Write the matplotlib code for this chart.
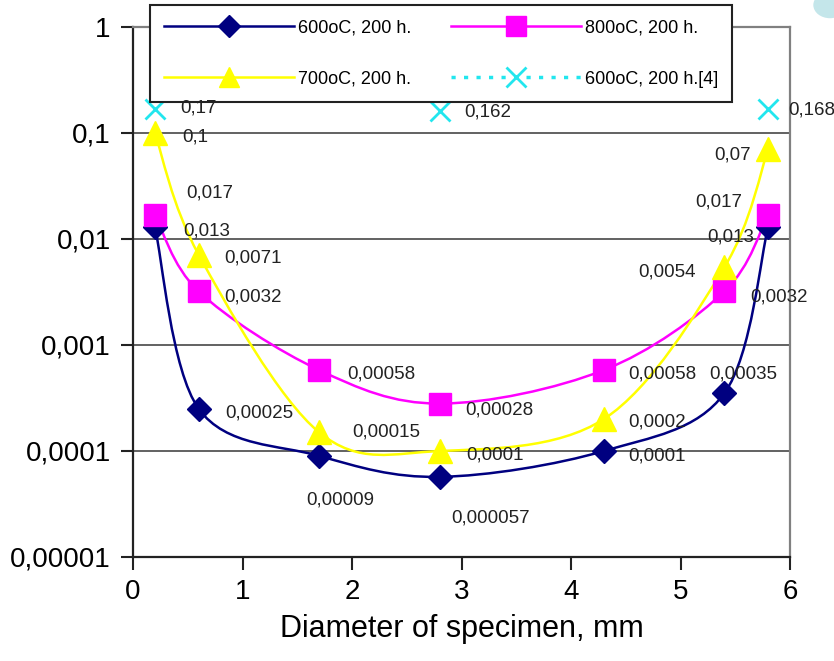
import numpy as np
import matplotlib.pyplot as plt
from matplotlib.path import Path
from matplotlib.patches import PathPatch, Ellipse
from matplotlib.lines import Line2D
from matplotlib.ticker import FixedLocator, FuncFormatter, NullLocator

plt.rcParams['font.family'] = ['Liberation Sans', 'DejaVu Sans']

# measured points (diameter in mm)
diam = [0.2, 0.6, 1.7, 2.8, 4.3, 5.4, 5.8]
t600 = [0.013, 0.00025, 0.00009, 0.000057, 0.0001, 0.00035, 0.013]
t800 = [0.017, 0.0032, 0.00058, 0.00028, 0.00058, 0.0032, 0.017]
t700 = [0.1, 0.0071, 0.00015, 0.0001, 0.0002, 0.0054, 0.07]
diam_ref = [0.2, 2.8, 5.8]
t600_ref = [0.17, 0.162, 0.168]

names = ['600oC, 200 h.', '700oC, 200 h.', '800oC, 200 h.', '600oC, 200 h.[4]']
yticks = [1e-5, 1e-4, 1e-3, 1e-2, 1e-1, 1]
xticks = [0, 1, 2, 3, 4, 5, 6]

# label offsets in pixels for each point
off600 = [(28, 4), (27, 4), (-13, 44), (12, 41), (24, 5), (-15, -19), (-61, 10)]
off800 = [(31, -22), (26, 6), (28, 4), (26, 6), (24, 4), (26, 6), (-73, -13)]
off700 = [(27, 4), (26, 3), (33, 0), (27, 4), (24, 3), (-86, 5), (-54, 6)]
offref = [(25, -1), (25, 1), (20, 1)]


def comma(v):
    return np.format_float_positional(v, trim='-').replace('.', ',')


def smooth_path(x, y):
    # bezier through the points, computed in log space like a smoothed line
    pts = np.column_stack([np.asarray(x, float), np.log10(y)])
    ext = np.vstack([pts[0], pts, pts[-1]])
    verts = [pts[0]]
    codes = [Path.MOVETO]
    for i in range(len(pts) - 1):
        p0, p1, p2, p3 = ext[i], ext[i + 1], ext[i + 2], ext[i + 3]
        verts += [p1 + (p2 - p0) / 6, p2 - (p3 - p1) / 6, p2]
        codes += [Path.CURVE4] * 3
    verts = np.array(verts)
    verts[:, 1] = 10 ** verts[:, 1]
    return Path(verts, codes)


fig = plt.figure(figsize=(8.34, 6.61), dpi=100)
ax = fig.add_axes([133 / 834, 1 - 557 / 661, 657 / 834, 530 / 661])
ax.set_yscale('log')
ax.set_xlim(0, 6)
ax.set_ylim(1e-5, 1)

series = [
    (t600, '#000080', 'D', 12.5, off600),
    (t800, '#FF00FF', 's', 16, off800),
    (t700, '#FFFF00', '^', 17, off700),
]
for vals, col, mk, ms, offs in series:
    ax.add_patch(PathPatch(smooth_path(diam, vals), fill=False, edgecolor=col, lw=1.8, zorder=3))
    ax.plot(diam, vals, linestyle='none', marker=mk, ms=ms, color=col, mec=col, zorder=4)
    for xv, yv, (dx, dy) in zip(diam, vals, offs):
        ax.annotate(comma(yv), (xv, yv), xytext=(dx, -dy), textcoords='offset pixels',
                    ha='left', va='center', fontsize=13.5, color='#222222', zorder=6)

cyan = '#22E6EE'
ax.plot(diam_ref, t600_ref, linestyle='none', marker='x', ms=14, mew=2, color=cyan, zorder=4)
for xv, yv, (dx, dy) in zip(diam_ref, t600_ref, offref):
    ax.annotate(comma(yv), (xv, yv), xytext=(dx, -dy), textcoords='offset pixels',
                ha='left', va='center', fontsize=13.5, color='#222222', zorder=6)

ax.yaxis.set_major_locator(FixedLocator(yticks))
ax.yaxis.set_minor_locator(NullLocator())
ax.yaxis.set_major_formatter(FuncFormatter(lambda v, p: comma(v)))
ax.set_xticks(xticks)
ax.tick_params(axis='both', direction='out', length=9, width=1.5, labelsize=20, pad=7, color='#222222')
ax.grid(axis='y', which='major', color='#555555', lw=1.3, zorder=1)
ax.set_axisbelow(True)

for s in ['left', 'bottom']:
    ax.spines[s].set_color('#222222')
    ax.spines[s].set_linewidth(1.6)
for s in ['top', 'right']:
    ax.spines[s].set_color('#808080')
    ax.spines[s].set_linewidth(1.6)

ax.set_xlabel('Diameter of specimen, mm', fontsize=22, labelpad=6)

handles = [
    Line2D([], [], color='#000080', marker='D', ms=11, lw=1.8),
    Line2D([], [], color='#FFFF00', marker='^', ms=15, lw=1.8),
    Line2D([], [], color='#FF00FF', marker='s', ms=14, lw=1.8),
    Line2D([], [], color=cyan, marker='x', ms=14, mew=2, lw=2.5, linestyle=(0, (1.2, 2.4))),
]
leg = ax.legend(handles, names, loc='upper left', bbox_to_anchor=(150 / 834, 1 - 5 / 661),
                bbox_transform=fig.transFigure, borderaxespad=0, ncol=2, fontsize=13,
                handlelength=7.2, columnspacing=2.2, labelspacing=1.9, borderpad=0.8,
                handletextpad=0.2, fancybox=False, framealpha=1, edgecolor='#222222')
leg.get_frame().set_linewidth(1.5)

fig.patches.append(Ellipse((830 / 834, 1 - 5 / 661), 0.04, 0.04, transform=fig.transFigure,
                           facecolor='#c4e6ea', edgecolor='none'))

fig.savefig('out.png', dpi=100)
